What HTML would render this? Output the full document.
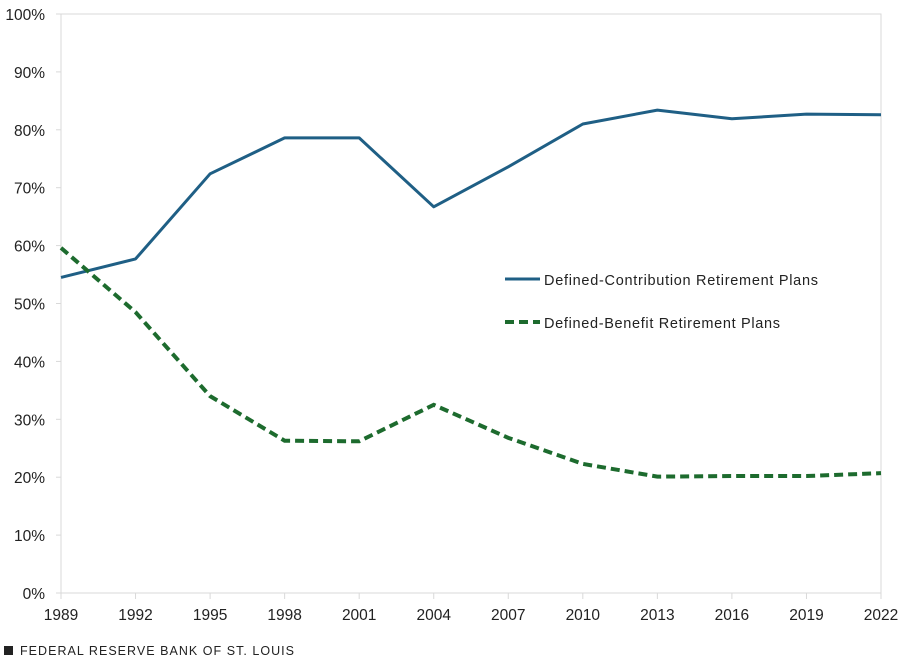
<!DOCTYPE html>
<html><head><meta charset="utf-8"><style>
body{margin:0;background:#fff;width:909px;height:660px;overflow:hidden;font-family:"Liberation Sans",sans-serif}
</style></head><body>
<svg width="909" height="660" xmlns="http://www.w3.org/2000/svg">
<g id="axes"></g>
<g id="marks"></g>
<g>
<line x1="505" y1="279" x2="540" y2="279" stroke="#1f5f85" stroke-width="3"/>
<text x="544" y="285" font-size="14.5" textLength="274" fill="#222">Defined-Contribution Retirement Plans</text>
<line x1="505" y1="322" x2="540" y2="322" stroke="#1d6b2e" stroke-width="4" stroke-dasharray="9,5"/>
<text x="544" y="328" font-size="14.5" textLength="236" fill="#222">Defined-Benefit Retirement Plans</text>
</g>
<rect x="4" y="646" width="9" height="9" fill="#222"/>
<text x="20" y="655" font-size="12.5" textLength="274" fill="#222">FEDERAL RESERVE BANK OF ST. LOUIS</text>
</svg>
<script>
const years=[1989,1992,1995,1998,2001,2004,2007,2010,2013,2016,2019,2022];
const dcValues=[54.5,57.7,72.4,78.6,78.6,66.7,73.6,81.0,83.4,81.9,82.7,82.6];
const dbValues=[59.6,48.5,34.0,26.3,26.2,32.5,26.8,22.3,20.1,20.2,20.2,20.7];
const yTicks=[0,10,20,30,40,50,60,70,80,90,100];
const NS="http://www.w3.org/2000/svg";
const X0=61,X1=881,Y0=593,Y1=14;
const x=i=>X0+(X1-X0)*i/(years.length-1);
const y=v=>Y0-(Y0-Y1)*v/100;
function mk(t,a,p){const e=document.createElementNS(NS,t);for(const k in a)e.setAttribute(k,a[k]);p.appendChild(e);return e;}
const ax=document.getElementById('axes');
const frame=mk('rect',{x:X0,y:Y1,width:X1-X0,height:Y0-Y1,fill:'none',stroke:'#d9d9d9'},ax);


yTicks.forEach(v=>{
 const l=mk('line',{x1:X0-5,x2:X0,y1:y(v),y2:y(v),stroke:'#d9d9d9'},ax);
 
 
 const t=mk('text',{x:X0-16,y:y(v)+6,'text-anchor':'end','font-size':'15.5',fill:'#222'},ax);
 t.textContent=v+'%';
 
 
});
years.forEach((yr,i)=>{
 const l=mk('line',{x1:x(i),x2:x(i),y1:Y0,y2:Y0+6,stroke:'#d9d9d9'},ax);
 
 
 const t=mk('text',{x:x(i),y:620,'text-anchor':'middle','font-size':'15.5',fill:'#222'},ax);
 t.textContent=yr;
 
 
});
const m=document.getElementById('marks');
const dc=mk('polyline',{points:dcValues.map((v,i)=>x(i)+','+y(v)).join(' '),fill:'none',stroke:'#1f5f85','stroke-width':3,'stroke-linejoin':'round'},m);


const db=mk('polyline',{points:dbValues.map((v,i)=>x(i)+','+y(v)).join(' '),fill:'none',stroke:'#1d6b2e','stroke-width':4,'stroke-dasharray':'9,5'},m);


</script>
</body></html>
